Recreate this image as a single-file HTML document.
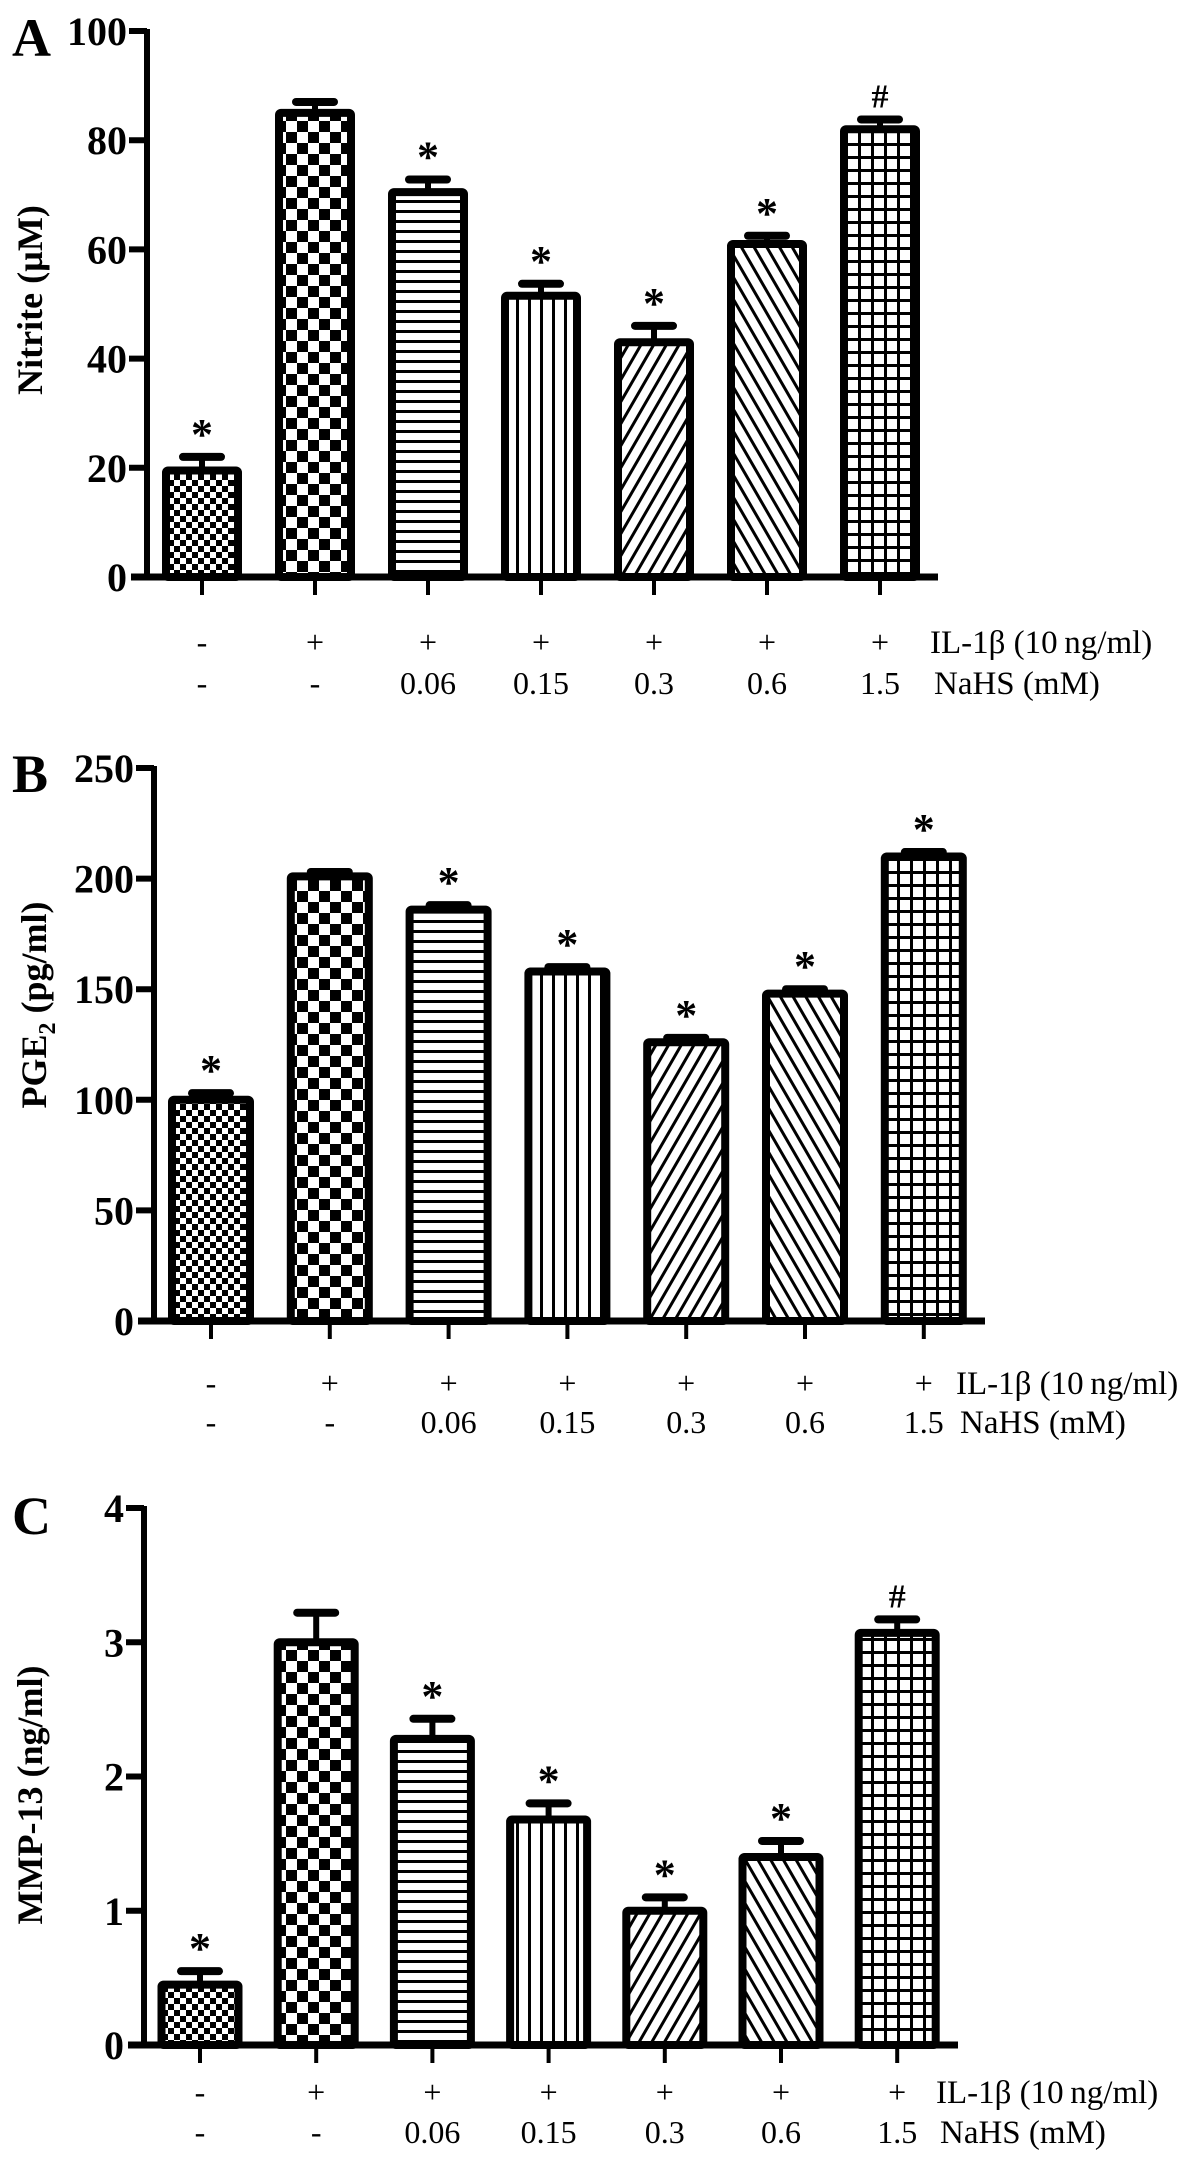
<!DOCTYPE html>
<html><head><meta charset="utf-8">
<style>
html,body{margin:0;padding:0;background:#fff;}
svg{display:block;}
text{font-family:"Liberation Serif",serif;fill:#000;}
</style></head>
<body>
<svg id="fig" width="1191" height="2171" viewBox="0 0 1191 2171" xmlns="http://www.w3.org/2000/svg">
<defs>
  <pattern id="p0" patternUnits="userSpaceOnUse" width="12" height="12"><rect width="12" height="12" fill="#fff"/><rect width="6" height="6" fill="#000"/><rect x="6" y="6" width="6" height="6" fill="#000"/></pattern>
  <pattern id="p1" patternUnits="userSpaceOnUse" width="22" height="22"><rect width="22" height="22" fill="#fff"/><rect width="11" height="11" fill="#000"/><rect x="11" y="11" width="11" height="11" fill="#000"/></pattern>
  <pattern id="p2" patternUnits="userSpaceOnUse" width="10" height="10"><rect width="10" height="10" fill="#fff"/><rect y="0" width="10" height="3" fill="#000"/></pattern>
  <pattern id="p3" patternUnits="userSpaceOnUse" width="12" height="12"><rect width="12" height="12" fill="#fff"/><rect x="0" width="3" height="12" fill="#000"/></pattern>
  <pattern id="p4" patternUnits="userSpaceOnUse" width="11" height="11" patternTransform="rotate(30)"><rect width="11" height="11" fill="#fff"/><rect width="3" height="11" fill="#000"/></pattern>
  <pattern id="p5" patternUnits="userSpaceOnUse" width="11" height="11" patternTransform="rotate(-30)"><rect width="11" height="11" fill="#fff"/><rect width="3" height="11" fill="#000"/></pattern>
  <pattern id="p6" patternUnits="userSpaceOnUse" width="13" height="13"><rect width="13" height="13" fill="#fff"/><rect width="3" height="13" fill="#000"/><rect width="13" height="3" fill="#000"/></pattern>
</defs>
</svg>
<script>
const ilLabels = ['-','+','+','+','+','+','+'];
const nahsLabels = ['-','-','0.06','0.15','0.3','0.6','1.5'];
const valuesA = [19.5, 85, 70.5, 51.5, 43, 61, 82];
const errorsA = [2.5, 2, 2.3, 2.2, 3, 1.5, 1.8];
const marksA = ['*','','*','*','*','*','#'];
const ticksA = [0,20,40,60,80,100];
const valuesB = [100, 201, 186, 158, 126, 148, 210];
const errorsB = [3, 2, 2, 2, 2, 2, 2];
const marksB = ['*','','*','*','*','*','*'];
const ticksB = [0,50,100,150,200,250];
const valuesC = [0.45, 3.0, 2.28, 1.68, 1.0, 1.4, 3.07];
const errorsC = [0.1, 0.22, 0.15, 0.12, 0.1, 0.12, 0.1];
const marksC = ['*','','*','*','*','*','#'];
const ticksC = [0,1,2,3,4];

const NS='http://www.w3.org/2000/svg';
const svg=document.getElementById('fig');
function mk(tag, attrs, parent){const e=document.createElementNS(NS,tag);for(const k in attrs)e.setAttribute(k,attrs[k]);(parent||svg).appendChild(e);return e;}

function panel(cfg){
  const g=mk('g',{});
  
  
  const y0=cfg.y0, yTop=cfg.yTop, max=cfg.ticks[cfg.ticks.length-1];
  const ys=v=>y0-(v/max)*(y0-yTop);
  const xs=i=>cfg.x0+i*cfg.step;
  const L=mk('text',{x:12,y:cfg.letterY,'font-size':54,'font-weight':'bold'},g);L.textContent=cfg.letter;
  
  
  const yt=mk('text',{transform:`translate(${cfg.titleX},${cfg.titleY}) rotate(-90)`,'text-anchor':'middle','font-size':36,'font-weight':'bold'},g);
  
  
  if(cfg.sub){yt.innerHTML=cfg.title+'<tspan font-size="24" dy="9">2</tspan><tspan dy="-9"> '+cfg.title2+'</tspan>';}
  else yt.textContent=cfg.title;
  cfg.values.forEach((v,i)=>{
    const cx=xs(i), w=cfg.bw, top=ys(v), et=ys(v+cfg.errors[i]);
    const eb=mk('line',{x1:cx,x2:cx,y1:top,y2:et,stroke:'#000','stroke-width':6},g);
    
    
    const cap=mk('line',{x1:cx-19,x2:cx+19,y1:et,y2:et,stroke:'#000','stroke-width':8,'stroke-linecap':'round'},g);
    
    
    const r=mk('rect',{x:cx-w/2+4,y:top,width:w-8,height:y0-top,fill:`url(#p${i})`,stroke:'#000','stroke-width':8,rx:2},g);
    
    
    if(cfg.marks[i]){
      const m=mk('text',{x:cx,y:et-(cfg.marks[i]=='*'?8:12),'text-anchor':'middle','font-size':cfg.marks[i]=='*'?44:34,'font-weight':'bold'},g);
      m.textContent=cfg.marks[i];
      
      
    }
    const xt=mk('line',{x1:cx,x2:cx,y1:y0,y2:y0+18,stroke:'#000','stroke-width':4},g);
    
    
    const t1=mk('text',{x:cx,y:cfg.row1,'text-anchor':'middle','font-size':32},g);t1.textContent=ilLabels[i];
    
    
    const t2=mk('text',{x:cx,y:cfg.row2,'text-anchor':'middle','font-size':32},g);t2.textContent=nahsLabels[i];
    
    
  });
  const a1=mk('text',{x:cfg.legX,y:cfg.row1,'font-size':33},g);a1.textContent='IL-1β (10\u2009ng/ml)';
  
  
  const a2=mk('text',{x:cfg.legX+4,y:cfg.row2,'font-size':33},g);a2.textContent='NaHS (mM)';
  
  
  const ya=mk('line',{x1:cfg.ax,x2:cfg.ax,y1:yTop-2,y2:y0,stroke:'#000','stroke-width':6},g);
  
  
  const xa=mk('line',{x1:cfg.ax-16,x2:cfg.xEnd,y1:y0,y2:y0,stroke:'#000','stroke-width':7},g);
  
  
  cfg.ticks.forEach(t=>{
    const y=ys(t);
    if(t!==0){const tl=mk('line',{x1:cfg.ax-18,x2:cfg.ax,y1:y,y2:y,stroke:'#000','stroke-width':6},g);
      
      }
    const tx=mk('text',{x:cfg.ax-20,y:y+14,'text-anchor':'end','font-size':40,'font-weight':'bold'},g);
    tx.textContent=t;
    
    
  });
}
panel({id:'a',letter:'A',letterY:56,title:'Nitrite (µM)',titleX:42,titleY:300,values:valuesA,errors:errorsA,marks:marksA,ticks:ticksA,
  ax:147,y0:577,yTop:31,x0:202,step:113,bw:80,xEnd:938,row1:653,row2:694,legX:930});
panel({id:'b',letter:'B',letterY:792,sub:true,title:'PGE',title2:'(pg/ml)',titleX:46,titleY:1005,values:valuesB,errors:errorsB,marks:marksB,ticks:ticksB,
  ax:154,y0:1321,yTop:768,x0:211,step:118.8,bw:86,xEnd:985,row1:1394,row2:1433,legX:956});
panel({id:'c',letter:'C',letterY:1534,title:'MMP-13 (ng/ml)',titleX:42,titleY:1795,values:valuesC,errors:errorsC,marks:marksC,ticks:ticksC,
  ax:144,y0:2045,yTop:1508,x0:200,step:116.2,bw:85,xEnd:958,row1:2103,row2:2143,legX:936});
</script>
</body></html>
